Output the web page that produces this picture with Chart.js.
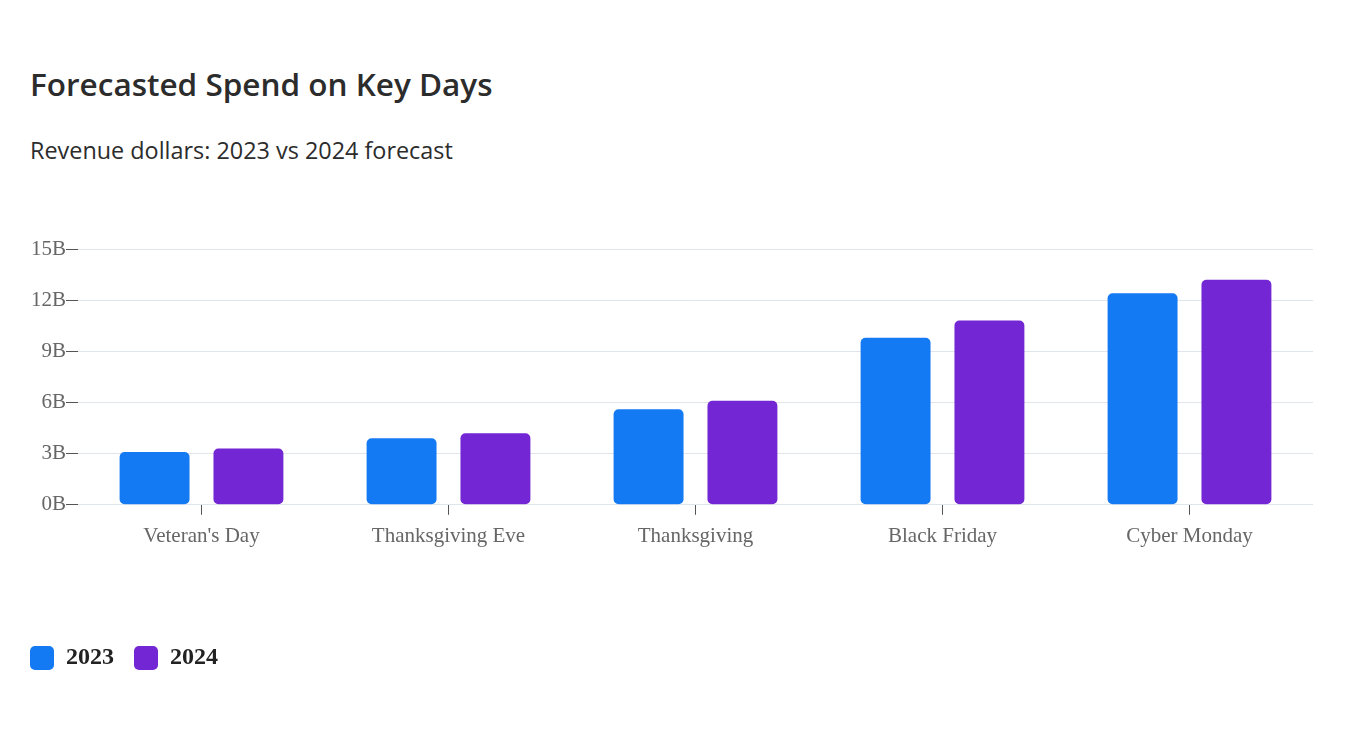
<!DOCTYPE html>
<html>
<head>
<meta charset="utf-8">
<script src="https://cdn.jsdelivr.net/npm/chart.js@4.4.1/dist/chart.umd.min.js"></script>
<style>
  body { margin: 0; background: #fff; width: 1350px; height: 742px; overflow: hidden; position: relative; }
  h1 { position: absolute; left: 30px; top: 62px; margin: 0; font: 600 31.5px "Open Sans", sans-serif; color: #2c2c2c; }
  h2 { position: absolute; left: 30px; top: 134px; margin: 0; font: 400 23.4px "Open Sans", sans-serif; color: #2c2c2c; }
  #wrap { position: absolute; left: 0; top: 200px; width: 1350px; height: 542px; }
</style>
</head>
<body>
<h1>Forecasted Spend on Key Days</h1>
<h2>Revenue dollars: 2023 vs 2024 forecast</h2>
<div id="wrap"><canvas id="chart"></canvas></div>
<script>
// data (billions of dollars)
const days = ["Veteran's Day", 'Thanksgiving Eve', 'Thanksgiving', 'Black Friday', 'Cyber Monday'];
const spend2023 = [3.1, 3.9, 5.6, 9.8, 12.4];
const spend2024 = [3.3, 4.2, 6.1, 10.8, 13.2];
const yTicks = [0, 3, 6, 9, 12, 15];

const serif = '"Liberation Serif", "Times New Roman", serif';

const ctx = document.getElementById('chart').getContext('2d');
new Chart(ctx, {
  type: 'bar',
  data: {
    labels: days,
    datasets: [
      { label: '2023', data: spend2023, backgroundColor: '#147af3', borderRadius: 5, borderSkipped: false },
      { label: '2024', data: spend2024, backgroundColor: '#7326d3', borderRadius: 5, borderSkipped: false },
    ],
  },
  options: {
    responsive: true,
    maintainAspectRatio: false,
    animation: false,
    categoryPercentage: 0.76,
    barPercentage: 0.745,
    layout: { padding: { left: 10, right: 37, top: 49, bottom: 62 } },
    plugins: {
      legend: {
        position: 'bottom',
        align: 'start',
        labels: {
          boxWidth: 24,
          boxHeight: 24,
          useBorderRadius: true,
          borderRadius: 5,
          padding: 20,
          color: '#222',
          font: { family: serif, size: 24, weight: 'bold' },
        },
      },
      tooltip: { enabled: false },
    },
    scales: {
      x: {
        grid: { drawOnChartArea: false, offset: false, tickColor: '#555', tickLength: 10 },
        border: { display: false },
        ticks: { color: '#666', padding: 9, font: { family: serif, size: 21 } },
        afterFit: (axis) => { axis.height += 68; },
      },
      y: {
        min: 0,
        max: 15,
        afterBuildTicks: (axis) => { axis.ticks = yTicks.map(v => ({ value: v })); },
        afterFit: (axis) => { axis.width = 68; },
        grid: { color: '#e0e4ed', tickColor: '#555', tickLength: 12 },
        border: { display: false },
        ticks: { color: '#666', padding: 0, font: { family: serif, size: 21 }, callback: v => v + 'B' },
      },
    },
  },
});
</script>
</body>
</html>
